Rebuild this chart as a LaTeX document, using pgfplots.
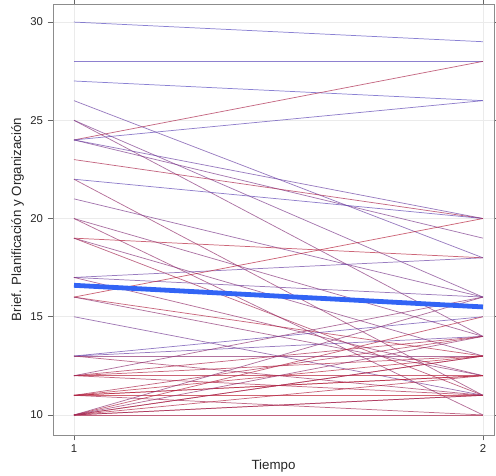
\documentclass[border=0pt]{standalone}
\usepackage{pgfplots}
\pgfplotsset{compat=1.18}
\usepackage{fontspec}
\setmainfont{Liberation Sans}
\definecolor{lb}{RGB}{80,80,205}
\definecolor{lr}{RGB}{195,30,45}
\definecolor{meanc}{RGB}{50,100,245}
\newcommand{\seg}[3]{\addplot[draw=lr!#3!lb, opacity=0.7, line width=0.55pt, forget plot] coordinates {(1,#1) (2,#2)};}
\begin{document}
\begin{tikzpicture}
\begin{axis}[
  scale only axis, width=330.75pt, height=323.25pt,
  xmin=0.9487, xmax=2.027, ymin=8.98, ymax=30.92,
  xtick={1,2}, ytick={10,15,20,25,30},
  grid=major, major grid style={black!8, line width=0.5pt},
  axis line style={black!45},
  tick align=outside, major tick length=4pt,
  tick style={black!60, line width=0.6pt},
  ticklabel style={font=\fontsize{8.5}{10}\selectfont, text=black!85},
  /pgf/number format/assume math mode=true,
  xlabel={Tiempo}, ylabel={Brief. Planificación y Organización},
  label style={font=\fontsize{10}{12}\selectfont, text=black!85},
  xlabel style={yshift=1.5pt},
  ylabel style={yshift=-2pt},
  clip=true,
]
\seg{30}{29}{8}
\seg{28}{28}{12}
\seg{27}{26}{8}
\seg{26}{18}{25}
\seg{25}{14}{50}
\seg{25}{16}{40}
\seg{24}{28}{80}
\seg{24}{26}{15}
\seg{24}{19}{40}
\seg{24}{20}{25}
\seg{23}{20}{80}
\seg{22}{20}{15}
\seg{22}{11}{60}
\seg{21}{16}{40}
\seg{20}{14}{50}
\seg{20}{10}{60}
\seg{19}{18}{90}
\seg{19}{13}{50}
\seg{19}{11}{75}
\seg{17}{18}{25}
\seg{17}{16}{30}
\seg{17}{12}{60}
\seg{16}{20}{90}
\seg{16}{13}{85}
\seg{16}{12}{55}
\seg{15}{11}{35}
\seg{13}{15}{20}
\seg{13}{14}{25}
\seg{13}{13}{55}
\seg{13}{11}{70}
\seg{12}{14}{80}
\seg{12}{13}{85}
\seg{12}{12}{90}
\seg{12}{16}{55}
\seg{12}{11}{80}
\seg{11}{13}{90}
\seg{11}{12}{85}
\seg{11}{11}{95}
\seg{11}{14}{80}
\seg{11}{10}{75}
\seg{11}{12}{90}
\seg{10}{16}{55}
\seg{10}{15}{85}
\seg{10}{13}{90}
\seg{10}{12}{85}
\seg{10}{11}{95}
\seg{10}{10}{80}
\seg{10}{14}{60}
\seg{10}{11}{70}
\seg{10}{13}{75}
\addplot[draw=meanc, line width=3.6pt] coordinates {(1,16.6) (2,15.5)};
\end{axis}
\pgfresetboundingbox
\useasboundingbox (-39.75pt,-30pt) rectangle (332.25pt,326.25pt);
\end{tikzpicture}
\end{document}
